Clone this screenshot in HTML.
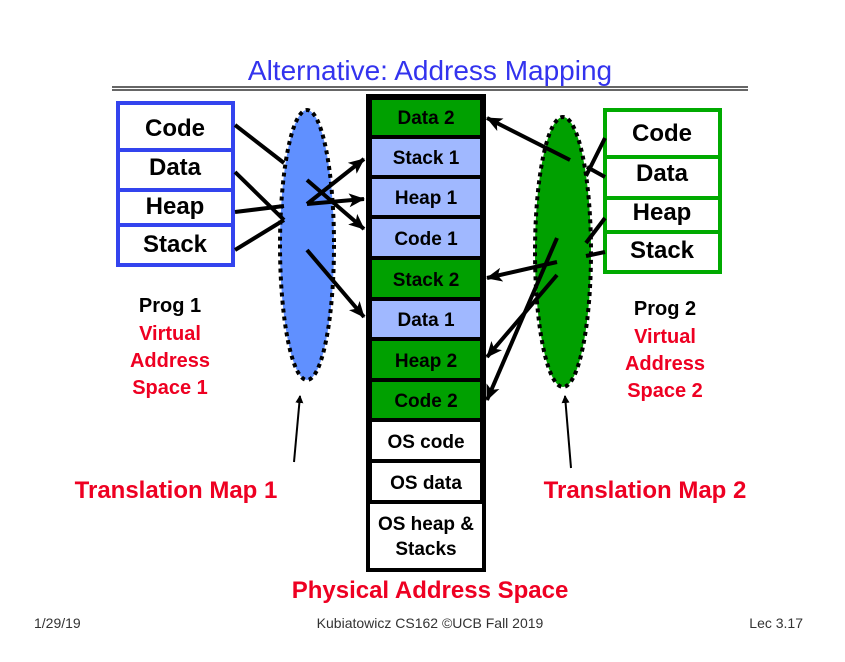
<!DOCTYPE html>
<html><head><meta charset="utf-8"><style>
html,body{margin:0;padding:0;background:#fff;}
svg{display:block;}
text{font-family:"Liberation Sans",sans-serif;}
.b{font-weight:bold;}
</style></head><body>
<svg width="845" height="662" viewBox="0 0 845 662" xmlns="http://www.w3.org/2000/svg">
<defs>
<marker id="ah" markerWidth="8" markerHeight="8" refX="7" refY="4" orient="auto" markerUnits="userSpaceOnUse" viewBox="0 0 8 8">
<path d="M0,0 L8,4 L0,8 z" fill="#000"/></marker>
<marker id="ah2" markerWidth="16" markerHeight="14" refX="15" refY="7" orient="auto" markerUnits="userSpaceOnUse" viewBox="0 0 16 14">
<path d="M0,0 L16,7 L0,14 L4,7 z" fill="#000"/></marker>
</defs>
<text x="430" y="80" text-anchor="middle" font-size="28" fill="#3333ee">Alternative: Address Mapping</text>
<line x1="112" y1="87" x2="748" y2="87" stroke="#333" stroke-width="1.5"/>
<line x1="112" y1="90" x2="748" y2="90" stroke="#333" stroke-width="1.5"/>

<!-- left virtual box -->
<rect x="118" y="103" width="115" height="162" fill="#fff" stroke="#3344ee" stroke-width="4"/>
<line x1="118" y1="150" x2="233" y2="150" stroke="#3344ee" stroke-width="4"/>
<line x1="118" y1="190" x2="233" y2="190" stroke="#3344ee" stroke-width="4"/>
<line x1="118" y1="225" x2="233" y2="225" stroke="#3344ee" stroke-width="4"/>
<g class="b" font-size="24" text-anchor="middle" fill="#000">
<text x="175" y="136">Code</text><text x="175" y="175">Data</text><text x="175" y="214">Heap</text><text x="175" y="252">Stack</text>
</g>

<!-- right virtual box -->
<rect x="605" y="110" width="115" height="162" fill="#fff" stroke="#00aa00" stroke-width="4"/>
<line x1="605" y1="157" x2="720" y2="157" stroke="#00aa00" stroke-width="4"/>
<line x1="605" y1="198" x2="720" y2="198" stroke="#00aa00" stroke-width="4"/>
<line x1="605" y1="232" x2="720" y2="232" stroke="#00aa00" stroke-width="4"/>
<g class="b" font-size="24" text-anchor="middle" fill="#000">
<text x="662" y="141">Code</text><text x="662" y="181">Data</text><text x="662" y="220">Heap</text><text x="662" y="258">Stack</text>
</g>

<!-- physical column -->
<rect x="368" y="96" width="116" height="474" fill="#fff" stroke="#000" stroke-width="4"/>
<g stroke="#000" stroke-width="4">
<rect x="370" y="98" width="112" height="39" fill="#00a000"/>
<rect x="370" y="137" width="112" height="40" fill="#a0b8ff"/>
<rect x="370" y="177" width="112" height="40" fill="#a0b8ff"/>
<rect x="370" y="217" width="112" height="41" fill="#a0b8ff"/>
<rect x="370" y="258" width="112" height="41" fill="#00a000"/>
<rect x="370" y="299" width="112" height="40" fill="#a0b8ff"/>
<rect x="370" y="339" width="112" height="41" fill="#00a000"/>
<rect x="370" y="380" width="112" height="40" fill="#00a000"/>
<rect x="370" y="420" width="112" height="41" fill="#fff"/>
<rect x="370" y="461" width="112" height="41" fill="#fff"/>
</g>
<g class="b" font-size="19" text-anchor="middle" fill="#000">
<text x="426" y="124">Data 2</text>
<text x="426" y="164">Stack 1</text>
<text x="426" y="204">Heap 1</text>
<text x="426" y="245">Code 1</text>
<text x="426" y="286">Stack 2</text>
<text x="426" y="326">Data 1</text>
<text x="426" y="367">Heap 2</text>
<text x="426" y="407">Code 2</text>
<text x="426" y="448">OS code</text>
<text x="426" y="489">OS data</text>
<text x="426" y="530">OS heap &amp;</text>
<text x="426" y="555">Stacks</text>
</g>

<!-- ellipses -->
<ellipse cx="307" cy="245" rx="27" ry="135" fill="#6090ff" stroke="#000" stroke-width="4" stroke-dasharray="4,4"/>
<ellipse cx="563" cy="252" rx="28" ry="135" fill="#00a000" stroke="#000" stroke-width="4" stroke-dasharray="4,4"/>

<!-- left arrows -->
<g stroke="#000" stroke-width="4" fill="none">
<line x1="235" y1="125" x2="284" y2="163"/>
<line x1="235" y1="172" x2="284" y2="220"/>
<line x1="235" y1="212" x2="284" y2="206"/>
<line x1="235" y1="250" x2="284" y2="220"/>
<line x1="307" y1="180" x2="364" y2="229" marker-end="url(#ah2)"/>
<line x1="307" y1="204" x2="364" y2="159" marker-end="url(#ah2)"/>
<line x1="307" y1="204" x2="364" y2="199" marker-end="url(#ah2)"/>
<line x1="307" y1="250" x2="364" y2="317" marker-end="url(#ah2)"/>
<!-- right arrows -->
<line x1="570" y1="160" x2="487" y2="118" marker-end="url(#ah2)"/>
<line x1="605" y1="177" x2="587" y2="167"/>
<line x1="605" y1="138" x2="586" y2="176"/>
<line x1="605" y1="218" x2="586" y2="243"/>
<line x1="605" y1="252" x2="586" y2="256"/>
<line x1="557" y1="262" x2="487" y2="278" marker-end="url(#ah2)"/>
<line x1="557" y1="238" x2="487" y2="400" marker-end="url(#ah2)"/>
<line x1="557" y1="275" x2="487" y2="357" marker-end="url(#ah2)"/>
</g>
<g stroke="#000" stroke-width="2">
<line x1="294" y1="462" x2="300" y2="396" marker-end="url(#ah)"/>
<line x1="571" y1="468" x2="565" y2="396" marker-end="url(#ah)"/>
</g>

<!-- labels -->
<g class="b" font-size="20" text-anchor="middle">
<text x="170" y="312" fill="#000">Prog 1</text>
<text x="170" y="340" fill="#ee0022">Virtual</text>
<text x="170" y="367" fill="#ee0022">Address</text>
<text x="170" y="394" fill="#ee0022">Space 1</text>
<text x="665" y="315" fill="#000">Prog 2</text>
<text x="665" y="343" fill="#ee0022">Virtual</text>
<text x="665" y="370" fill="#ee0022">Address</text>
<text x="665" y="397" fill="#ee0022">Space 2</text>
</g>
<g class="b" font-size="24" fill="#ee0022">
<text x="176" y="498" text-anchor="middle">Translation Map 1</text>
<text x="645" y="498" text-anchor="middle">Translation Map 2</text>
<text x="430" y="598" text-anchor="middle">Physical Address Space</text>
</g>
<g font-size="14" fill="#333">
<text x="34" y="628">1/29/19</text>
<text x="430" y="628" text-anchor="middle">Kubiatowicz CS162 ©UCB Fall 2019</text>
<text x="803" y="628" text-anchor="end">Lec 3.17</text>
</g>
</svg>
</body></html>
